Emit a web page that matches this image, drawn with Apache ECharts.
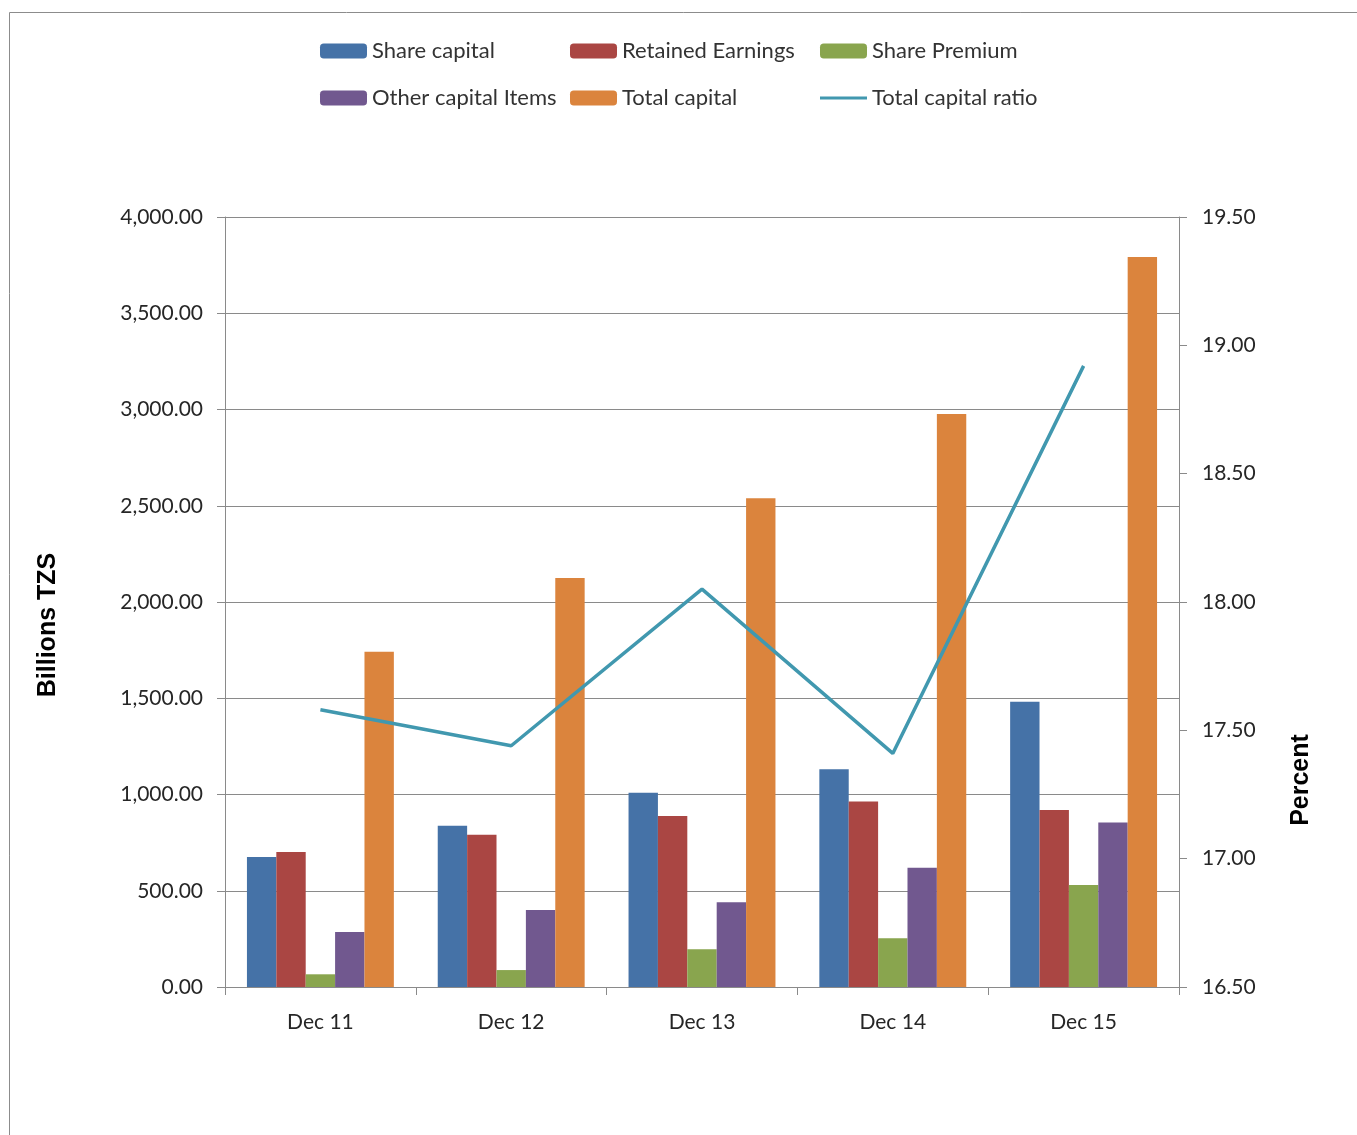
<!DOCTYPE html>
<html>
<head>
<meta charset="utf-8">
<title>Capital components and total capital ratio</title>
<script src="https://cdn.jsdelivr.net/npm/echarts@6/dist/echarts.min.js"></script>
<style>
  html, body { margin: 0; padding: 0; background: #ffffff; }
  #chart { width: 1357px; height: 1135px; }
</style>
</head>
<body>
<div id="chart"></div>
<script>
// Periods on the category axis
const categories = ['Dec 11', 'Dec 12', 'Dec 13', 'Dec 14', 'Dec 15'];

// Capital components, billions TZS
const shareCapital = [675, 838, 1009, 1131, 1482];
const retainedEarnings = [701, 791, 888, 963, 919];
const sharePremium = [66, 88, 196, 253, 530];
const otherCapitalItems = [286, 400, 440, 620, 855];
const totalCapital = [1742, 2125, 2539, 2977, 3792];

// Total capital ratio, percent (right axis)
const totalCapitalRatio = [17.58, 17.44, 18.05, 17.41, 18.92];

const FONT = 'Lato, "Noto Sans", sans-serif';
const TITLE_FONT = '"Liberation Sans", Arial, sans-serif';
const GRID_COLOR = '#8a8a8a';
const TEXT_COLOR = '#262626';

const chart = echarts.init(document.getElementById('chart'), null, { renderer: 'canvas' });

function barSeries(name, data, color) {
  return {
    name: name,
    type: 'bar',
    yAxisIndex: 0,
    data: data,
    barGap: '0%',
    barCategoryGap: '23%',
    itemStyle: { color: color },
    emphasis: { disabled: true }
  };
}

const legendText = { fontFamily: FONT, fontSize: 22, color: '#333333', lineHeight: 24 };
function legendColumn(left, names) {
  return {
    orient: 'vertical',
    left: left,
    top: 39,
    itemWidth: 47,
    itemHeight: 15,
    itemGap: 23,
    padding: 0,
    selectedMode: false,
    textStyle: legendText,
    data: names
  };
}

// Rotated axis titles, reading bottom to top
function axisTitle(text, x, y) {
  return {
    type: 'text',
    x: x,
    y: y,
    rotation: Math.PI / 2,
    silent: true,
    style: {
      text: text,
      fontFamily: TITLE_FONT,
      fontWeight: 'bold',
      fontSize: 25,
      fill: '#000000',
      align: 'center',
      verticalAlign: 'middle'
    }
  };
}

const option = {
  backgroundColor: '#ffffff',
  animation: false,
  graphic: [
    {
      type: 'rect',
      shape: { x: 9.5, y: 12.5, width: 1400, height: 1200 },
      style: { fill: 'none', stroke: '#8c8c8c', lineWidth: 1 },
      silent: true
    },
    axisTitle('Billions TZS', 48, 625),
    axisTitle('Percent', 1301, 780)
  ],
  legend: [
    legendColumn(320, ['Share capital', 'Other capital Items']),
    legendColumn(570, ['Retained Earnings', 'Total capital']),
    legendColumn(820, ['Share Premium', {
      name: 'Total capital ratio',
      icon: 'path://M0,6 L47,6 L47,9 L0,9 Z',
      itemStyle: { color: '#4198AF' }
    }])
  ],
  grid: { left: 225, right: 178, top: 217, bottom: 148, containLabel: false },
  xAxis: {
    type: 'category',
    data: categories,
    axisLine: { lineStyle: { color: GRID_COLOR, width: 1 } },
    axisTick: { show: true, length: 8, lineStyle: { color: GRID_COLOR } },
    axisLabel: { fontFamily: FONT, fontSize: 21, color: TEXT_COLOR, margin: 25 }
  },
  yAxis: [
    {
      type: 'value',
      min: 0,
      max: 4000,
      interval: 500,
      axisLine: { show: true, lineStyle: { color: GRID_COLOR, width: 1 } },
      axisTick: { show: true, length: 8, lineStyle: { color: GRID_COLOR } },
      splitLine: { show: true, lineStyle: { color: GRID_COLOR, width: 1 } },
      axisLabel: {
        fontFamily: FONT, fontSize: 21, color: TEXT_COLOR, margin: 22,
        formatter: v => v.toLocaleString('en-US', { minimumFractionDigits: 2, maximumFractionDigits: 2 })
      }
    },
    {
      type: 'value',
      min: 16.5,
      max: 19.5,
      interval: 0.5,
      position: 'right',
      axisLine: { show: true, lineStyle: { color: GRID_COLOR, width: 1 } },
      axisTick: { show: true, length: 8, lineStyle: { color: GRID_COLOR } },
      splitLine: { show: false },
      axisLabel: {
        fontFamily: FONT, fontSize: 21, color: TEXT_COLOR, margin: 23,
        formatter: v => v.toFixed(2)
      }
    }
  ],
  series: [
    barSeries('Share capital', shareCapital, '#4572A7'),
    barSeries('Retained Earnings', retainedEarnings, '#AA4643'),
    barSeries('Share Premium', sharePremium, '#89A54E'),
    barSeries('Other capital Items', otherCapitalItems, '#71588F'),
    barSeries('Total capital', totalCapital, '#DB843D'),
    {
      name: 'Total capital ratio',
      type: 'line',
      yAxisIndex: 1,
      data: totalCapitalRatio,
      symbol: 'none',
      lineStyle: { color: '#4198AF', width: 3.5 },
      itemStyle: { color: '#4198AF' },
      z: 5,
      emphasis: { disabled: true }
    }
  ]
};

chart.setOption(option);
</script>
</body>
</html>
